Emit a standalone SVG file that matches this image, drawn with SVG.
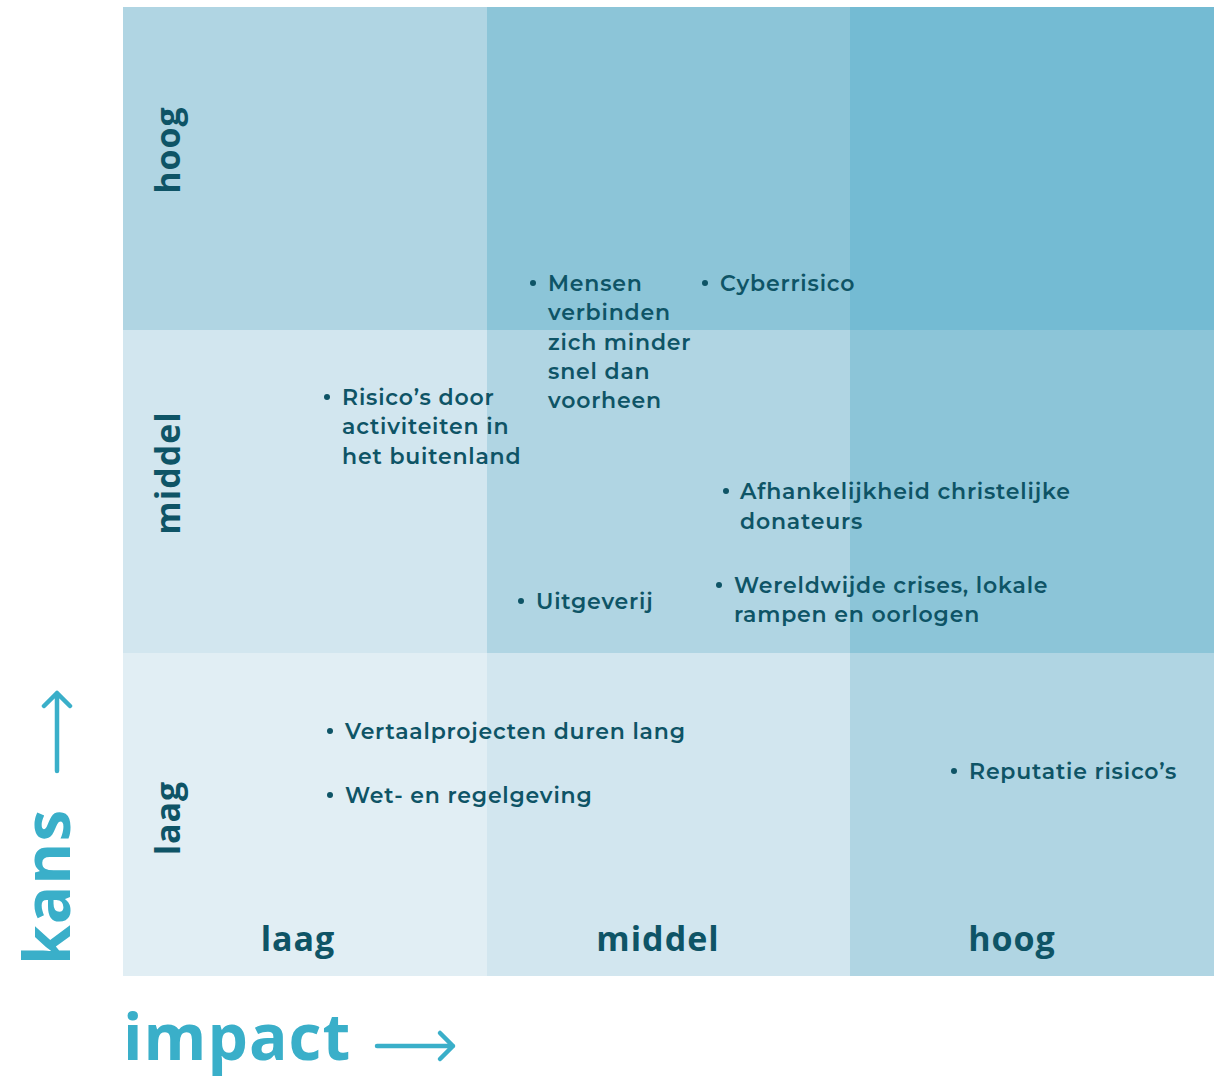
<svg xmlns="http://www.w3.org/2000/svg" width="1224" height="1077" viewBox="0 0 1224 1077">
<style>
.t{font-family:"Montserrat","Open Sans","Noto Sans",sans-serif;font-weight:600;font-size:22px;letter-spacing:0.8px;fill:#0e5466}
.b{fill:#0e5466}
.ax{font-family:"Open Sans","Noto Sans",sans-serif;font-weight:700;font-size:34px;letter-spacing:1px;fill:#0e5466}
.big{font-family:"Open Sans","Noto Sans",sans-serif;font-weight:700;font-size:64px;letter-spacing:1px;fill:#3aafc9}
.arr{stroke:#3aafc9;stroke-width:4.5;fill:none;stroke-linecap:round;stroke-linejoin:round}
</style>
<rect width="1224" height="1077" fill="#ffffff"/>
<g id="grid">
<rect x="123" y="7" width="364" height="323" fill="#b0d5e3"/>
<rect x="487" y="7" width="363" height="323" fill="#8cc5d8"/>
<rect x="850" y="7" width="364" height="323" fill="#74bbd3"/>
<rect x="123" y="330" width="364" height="323" fill="#d2e6ef"/>
<rect x="487" y="330" width="363" height="323" fill="#b0d5e3"/>
<rect x="850" y="330" width="364" height="323" fill="#8cc5d8"/>
<rect x="123" y="653" width="364" height="323" fill="#e1eef4"/>
<rect x="487" y="653" width="363" height="323" fill="#d2e6ef"/>
<rect x="850" y="653" width="364" height="323" fill="#b0d5e3"/>
</g>
<g id="row-labels">
<text class="ax" transform="translate(180,150) rotate(-90)" text-anchor="middle">hoog</text>
<text class="ax" transform="translate(180,473) rotate(-90)" text-anchor="middle">middel</text>
<text class="ax" transform="translate(180,818) rotate(-90)" text-anchor="middle">laag</text>
</g>
<g id="col-labels">
<text class="ax" x="298" y="951" text-anchor="middle">laag</text>
<text class="ax" x="658" y="951" text-anchor="middle">middel</text>
<text class="ax" x="1012" y="951" text-anchor="middle">hoog</text>
</g>
<g id="item-mensen">
<circle class="b" cx="533" cy="283" r="3"/>
<text class="t" x="548" y="291">Mensen</text>
<text class="t" x="548" y="320">verbinden</text>
<text class="t" x="548" y="350">zich minder</text>
<text class="t" x="548" y="379">snel dan</text>
<text class="t" x="548" y="408">voorheen</text>
</g>
<g id="item-cyber">
<circle class="b" cx="705" cy="283" r="3"/>
<text class="t" x="720" y="291">Cyberrisico</text>
</g>
<g id="item-buitenland">
<circle class="b" cx="327" cy="397" r="3"/>
<text class="t" x="342" y="405">Risico’s door</text>
<text class="t" x="342" y="434">activiteiten in</text>
<text class="t" x="342" y="464">het buitenland</text>
</g>
<g id="item-donateurs">
<circle class="b" cx="726" cy="491" r="3"/>
<text class="t" x="740" y="499">Afhankelijkheid christelijke</text>
<text class="t" x="740" y="529">donateurs</text>
</g>
<g id="item-uitgeverij">
<circle class="b" cx="521" cy="601" r="3"/>
<text class="t" x="536" y="609">Uitgeverij</text>
</g>
<g id="item-crises">
<circle class="b" cx="719" cy="585" r="3"/>
<text class="t" x="734" y="593">Wereldwijde crises, lokale</text>
<text class="t" x="734" y="622">rampen en oorlogen</text>
</g>
<g id="item-vertaal">
<circle class="b" cx="330" cy="731" r="3"/>
<text class="t" x="345" y="739">Vertaalprojecten duren lang</text>
</g>
<g id="item-wet">
<circle class="b" cx="330" cy="795" r="3"/>
<text class="t" x="345" y="803">Wet- en regelgeving</text>
</g>
<g id="item-reputatie">
<circle class="b" cx="954" cy="771" r="3"/>
<text class="t" x="969" y="779">Reputatie risico’s</text>
</g>
<g id="axis-kans">
<text class="big" transform="translate(70,965) rotate(-90)">kans</text>
</g>
<g id="axis-impact">
<text class="big" x="123" y="1060">impact</text>
</g>
<g id="connectors">
<path class="arr" d="M57 771 V693 M44 706 L57 693 L70 706"/>
<path class="arr" d="M377 1046 H453 M440 1033 L453 1046 L440 1059"/>
</g>
</svg>
